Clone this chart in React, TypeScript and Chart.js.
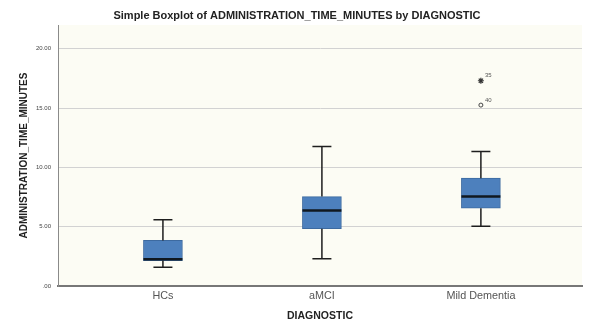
import React, { useEffect, useRef } from "react";
import { Chart, registerables } from "chart.js";

Chart.register(...registerables);

const categories = ["HCs", "aMCI", "Mild Dementia"];
const whiskerLow = [1.58, 2.29, 5.03];
const q1 = [2.14, 4.83, 6.55];
const median = [2.26, 6.36, 7.54];
const q3 = [3.84, 7.54, 9.09];
const whiskerHigh = [5.59, 11.75, 11.33];

const extremeCat = [3];
const extremeValue = [17.3];
const extremeLabel = ["35"];
const outlierCat = [3];
const outlierValue = [15.25];
const outlierLabel = ["40"];

const yTicks = [0, 5, 10, 15, 20];
const titleText = "Simple Boxplot of ADMINISTRATION_TIME_MINUTES by DIAGNOSTIC";
const yTitle = "ADMINISTRATION_TIME_MINUTES";
const xTitle = "DIAGNOSTIC";

const FONT = "'Liberation Sans', Arial, sans-serif";

export default function App() {
  const ref = useRef<HTMLCanvasElement | null>(null);

  useEffect(() => {
    if (!ref.current) return;

    const boxPlugin = {
      id: "boxExtras",
      beforeDraw(chart: any) {
        const { ctx, chartArea } = chart;
        ctx.save();
        ctx.fillStyle = "#ffffff";
        ctx.fillRect(0, 0, chart.width, chart.height);
        ctx.fillStyle = "#fcfcf4";
        ctx.fillRect(chartArea.left, chartArea.top, chartArea.right - chartArea.left, chartArea.bottom - chartArea.top);
        ctx.restore();
      },
      afterDatasetsDraw(chart: any) {
        const { ctx } = chart;
        const xs = chart.scales.x;
        const ys = chart.scales.y;
        const boxHalf = 19.5;
        const capHalf = 9.5;
        ctx.save();
        ctx.strokeStyle = "#1e1e1e";
        ctx.lineWidth = 1.5;
        categories.forEach((_, i) => {
          const cx = xs.getPixelForValue(i + 1);
          const yLo = ys.getPixelForValue(whiskerLow[i]);
          const yQ1 = ys.getPixelForValue(q1[i]);
          const yQ3 = ys.getPixelForValue(q3[i]);
          const yHi = ys.getPixelForValue(whiskerHigh[i]);
          ctx.beginPath();
          ctx.moveTo(cx, yQ1);
          ctx.lineTo(cx, yLo);
          ctx.moveTo(cx - capHalf, yLo);
          ctx.lineTo(cx + capHalf, yLo);
          ctx.moveTo(cx, yQ3);
          ctx.lineTo(cx, yHi);
          ctx.moveTo(cx - capHalf, yHi);
          ctx.lineTo(cx + capHalf, yHi);
          ctx.stroke();
        });
        ctx.lineWidth = 2.5;
        ctx.strokeStyle = "#101820";
        categories.forEach((_, i) => {
          const cx = xs.getPixelForValue(i + 1);
          const ym = ys.getPixelForValue(median[i]);
          ctx.beginPath();
          ctx.moveTo(cx - boxHalf, ym);
          ctx.lineTo(cx + boxHalf, ym);
          ctx.stroke();
        });
        ctx.fillStyle = "#555";
        ctx.font = `6px ${FONT}`;
        ctx.textAlign = "left";
        ctx.textBaseline = "middle";
        extremeCat.forEach((c, i) => {
          ctx.fillText(extremeLabel[i], xs.getPixelForValue(c) + 4, ys.getPixelForValue(extremeValue[i]) - 5);
        });
        outlierCat.forEach((c, i) => {
          ctx.fillText(outlierLabel[i], xs.getPixelForValue(c) + 4, ys.getPixelForValue(outlierValue[i]) - 5);
        });
        ctx.fillStyle = "#222";
        ctx.font = `bold 11px ${FONT}`;
        ctx.textAlign = "center";
        ctx.fillText(titleText, 297, 16);
        ctx.restore();
      },
    };

    const chart = new Chart(ref.current, {
      type: "bar",
      data: {
        datasets: [
          {
            type: "bar",
            data: categories.map((_, i) => ({ x: i + 1, y: [q1[i], q3[i]] })) as any,
            backgroundColor: "#4d80bd",
            borderColor: "#3d6aa0",
            borderWidth: 1,
            borderSkipped: false,
            barThickness: 39,
          } as any,
          {
            type: "scatter",
            data: extremeCat.map((c, i) => ({ x: c, y: extremeValue[i] })),
            pointStyle: "star",
            radius: 3,
            borderColor: "#333",
            backgroundColor: "#333",
            borderWidth: 1.2,
          } as any,
          {
            type: "scatter",
            data: outlierCat.map((c, i) => ({ x: c, y: outlierValue[i] })),
            pointStyle: "circle",
            radius: 2,
            borderColor: "#444",
            backgroundColor: "rgba(0,0,0,0)",
            borderWidth: 1,
          } as any,
        ],
      },
      options: {
        animation: false,
        responsive: false,
        layout: { padding: { top: 25, right: 9, left: 0, bottom: 0 } },
        plugins: { legend: { display: false }, tooltip: { enabled: false }, title: { display: false } },
        scales: {
          x: {
            type: "linear",
            offset: false,
            min: 0.34,
            max: 3.636,
            afterBuildTicks: (s: any) => {
              s.ticks = categories.map((_, i) => ({ value: i + 1 }));
            },
            afterFit: (s: any) => {
              s.height = 41;
            },
            ticks: {
              callback: (v: any) => categories[Math.round(Number(v)) - 1] ?? "",
              font: { family: FONT, size: 10.8 },
              color: "#555",
              padding: 4,
              maxRotation: 0,
              autoSkip: false,
            },
            grid: { display: false, drawTicks: false, offset: false },
            border: { display: true, color: "#777", width: 2 },
            title: {
              display: true,
              text: xTitle,
              font: { family: FONT, size: 10.5, weight: "bold" },
              color: "#222",
              padding: { top: 0, bottom: 5 },
            },
          },
          y: {
            type: "linear",
            min: 0,
            max: 22,
            afterBuildTicks: (s: any) => {
              s.ticks = yTicks.map((v) => ({ value: v }));
            },
            afterFit: (s: any) => {
              s.width = 58;
            },
            ticks: {
              callback: (v: any) => (Number(v) === 0 ? ".00" : Number(v).toFixed(2)),
              font: { family: FONT, size: 6 },
              color: "#444",
              padding: 7,
            },
            grid: { color: "#d2d2d2", lineWidth: 1, drawTicks: false },
            border: { display: true, color: "#8a8a8a", width: 1 },
            title: {
              display: true,
              text: yTitle,
              font: { family: FONT, size: 10, weight: "bold" },
              color: "#222",
              padding: { top: 18, bottom: 0 },
            },
          },
        },
      },
      plugins: [boxPlugin],
    });

    return () => chart.destroy();
  }, []);

  return (
    <div style={{ position: "fixed", left: 0, top: 0, width: 591, height: 327 }}>
      <canvas ref={ref} width={591} height={327} style={{ display: "block" }} />
    </div>
  );
}
